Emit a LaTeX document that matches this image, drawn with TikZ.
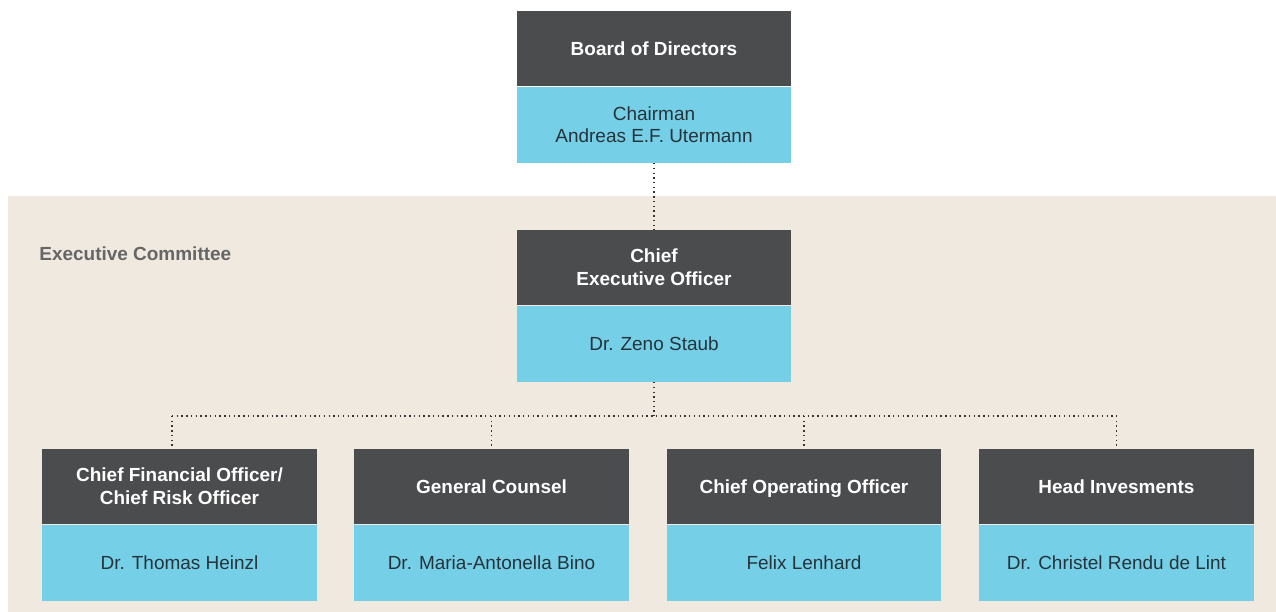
\documentclass[tikz,border=0pt]{standalone}
\usepackage{fontspec}
\setmainfont{Liberation Sans}
\usetikzlibrary{positioning}

\definecolor{boxgray}{HTML}{4B4C4E}
\definecolor{boxblue}{HTML}{74CFE7}
\definecolor{panel}{HTML}{F0E9E0}
\definecolor{nametext}{HTML}{27333B}
\definecolor{labelgray}{HTML}{666666}

\begin{document}
\begin{tikzpicture}[x=0.02cm,y=-0.02cm,
  font=\fontsize{10.8}{13}\selectfont,
  role/.style={fill=boxgray,text=white,font=\fontsize{10.8}{13}\selectfont\bfseries,
    align=center,minimum width=5.5cm,minimum height=1.5cm,inner sep=0pt},
  person/.style={fill=boxblue,text=nametext,align=center,
    minimum width=5.5cm,minimum height=1.52cm,inner sep=0pt},
  link/.style={line width=0.8pt,dash pattern=on 0.8pt off 1.9pt,color=boxgray!70!black}]
\useasboundingbox (0,0) rectangle (1276,612);
% committee panel
\fill[panel] (8,196) rectangle (1276,612);
\node[anchor=west,text=labelgray,font=\fontsize{10.8}{13}\selectfont\bfseries,inner sep=0pt] (exec) at (39,254) {Executive Committee};

% board
\node[role] (board) at (654,48.5) {Board of Directors};
\node[person,below=0pt of board] (chair) {Chairman\\Andreas E.F. Utermann};

% ceo
\node[role] (ceo) at (654,267.5) {Chief\\Executive Officer};
\node[person,below=0pt of ceo] (zeno) {Dr. Zeno Staub};

% committee members
\node[role] (cfo) at (179.5,486.5) {Chief Financial Officer/\\Chief Risk Officer};
\node[person,below=0pt of cfo] (heinzl) {Dr. Thomas Heinzl};
\node[role] (counsel) at (491.5,486.5) {General Counsel};
\node[person,below=0pt of counsel] (bino) {Dr. Maria-Antonella Bino};
\node[role,text depth=0pt] (coo) at (804,486.5) {Chief Operating Officer};
\node[person,below=0pt of coo] (lenhard) {Felix Lenhard};
\node[role] (invest) at (1116.5,486.5) {Head Invesments};
\node[person,below=0pt of invest] (rendu) {Dr. Christel Rendu de Lint};

% reporting lines
\coordinate (split) at (654,416);
\coordinate (dropA) at ([xshift=-0.15cm]cfo.north);
\draw[link] (chair) -- (ceo);
\draw[link] (zeno) -- (split);
\draw[link] (dropA |- split) -- (invest.north |- split);
\draw[link] (dropA |- split) -- (dropA);
\draw[link] (counsel.north |- split) -- (counsel.north);
\draw[link] (coo.north |- split) -- (coo.north);
\draw[link] (invest.north |- split) -- (invest.north);
\end{tikzpicture}
\end{document}
